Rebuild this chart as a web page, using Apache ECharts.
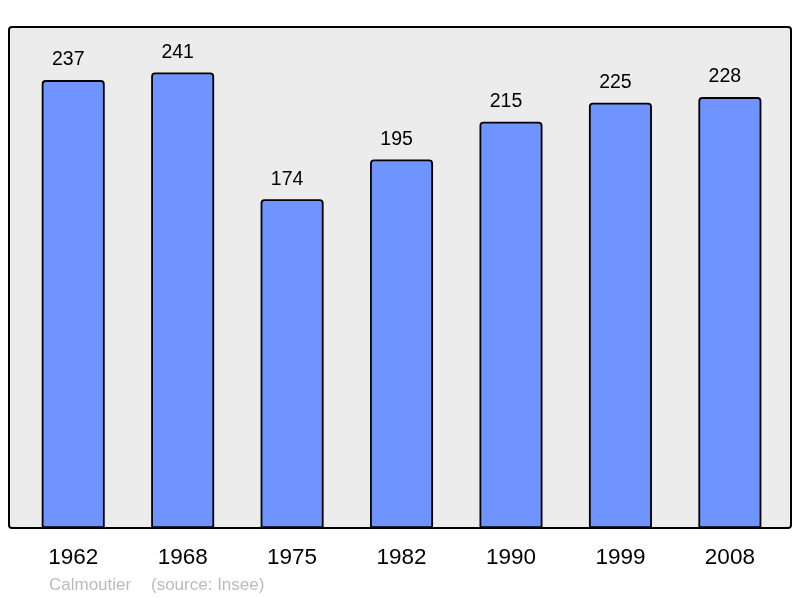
<!DOCTYPE html>
<html><head><meta charset="utf-8">
<script src="https://cdn.jsdelivr.net/npm/echarts@6/dist/echarts.min.js"></script>
<style>html,body{margin:0;padding:0;background:#fff}#c{width:800px;height:598px}</style>
</head><body><div id="c"></div>
<script>
const years = ['1962','1968','1975','1982','1990','1999','2008'];
const population = [237, 241, 174, 195, 215, 225, 228];
const footerLeft = 'Calmoutier';
const footerRight = '(source: Insee)';

const chart = echarts.init(document.getElementById('c'), null, {renderer:'canvas'});
const FONT = '"Liberation Sans", Arial, sans-serif';
chart.setOption({
  animation:false,
  backgroundColor:'#ffffff',
  graphic:[
    {type:'rect', z:-10, shape:{x:9, y:27, width:782, height:501, r:3},
     style:{fill:'#ececec', stroke:'#000', lineWidth:2}},
    {type:'text', left:49, top:577, style:{text:footerLeft, fill:'#bbbbbb', font:'17px '+FONT}},
    {type:'text', left:151, top:577, style:{text:footerRight, fill:'#bbbbbb', font:'17px '+FONT}}
  ],
  grid:{left:18.5, right:15.4, top:27, bottom:70, containLabel:false},
  xAxis:{type:'category', data:years,
    axisLine:{show:false}, axisTick:{show:false},
    axisLabel:{color:'#000', fontSize:22.5, fontFamily:FONT, margin:18}},
  yAxis:{type:'value', min:0, max:265.1, show:false, splitLine:{show:false}},
  series:[{type:'bar', data:population, barWidth:63,
    itemStyle:{color:'#7094ff', borderColor:'#000', borderWidth:1.8, borderRadius:[3,3,0,0]},
    label:{show:true, position:'top', distance:10, offset:[-5,0], color:'#000', fontSize:19.5, fontFamily:FONT}
  }]
});
</script></body></html>
